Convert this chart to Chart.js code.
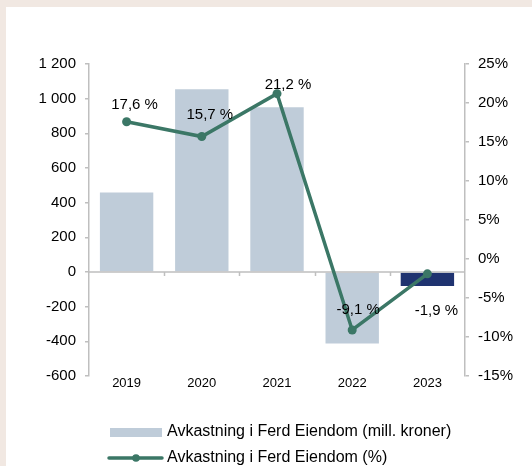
<!DOCTYPE html>
<html>
<head>
<meta charset="utf-8">
<script src="https://cdn.jsdelivr.net/npm/chart.js@4.4.1/dist/chart.umd.min.js"></script>
<style>
  html, body { margin: 0; padding: 0; background: #f1e8e2; }
  #panel { position: absolute; left: 6px; top: 7px; width: 526px; height: 459px; background: #fff; }
  canvas { display: block; }
</style>
</head>
<body>
<div id="panel"><canvas id="chart" width="526" height="459"></canvas></div>
<script>
// data
const years = ['2019', '2020', '2021', '2022', '2023'];
const returnMNOK = [458, 1055, 951, -412, -81];
const returnPct = [17.6, 15.7, 21.2, -9.1, -1.9];
const barLabel = 'Avkastning i Ferd Eiendom (mill. kroner)';
const lineLabel = 'Avkastning i Ferd Eiendom (%)';

const LIGHT = '#bfccd9';
const NAVY = '#1f3370';
const GREEN = '#3b7766';
const AXIS = '#bfbfbf';
const FONT = "'Liberation Sans', Arial, sans-serif";

// label nudges (dx, dy) relative to each point
const labelOffsets = [[8, -17], [8, -22], [11, -9], [6, -20], [9, 37]];

function fmtThousands(v) {
    let s = Math.abs(v).toString().replace(/\B(?=(\d{3})+(?!\d))/g, ' ');
    return (v < 0 ? '-' : '') + s;
}

// zero line for the bars + small boundary ticks
const zeroLinePlugin = {
    id: 'zeroLine',
    afterDatasetDraw(chart, args) {
        if (args.index !== 0) return;
        const ctx = chart.ctx, area = chart.chartArea;
        const y0 = chart.scales.y.getPixelForValue(0);
        ctx.save();
        ctx.strokeStyle = AXIS;
        ctx.lineWidth = 1.5;
        ctx.beginPath();
        ctx.moveTo(area.left, y0);
        ctx.lineTo(area.right, y0);
        const step = (area.right - area.left) / years.length;
        for (let i = 1; i < years.length; i++) {
            let x = Math.round(area.left + step * i) + 0.5;
            ctx.moveTo(x, y0);
            ctx.lineTo(x, y0 + 4);
        }
        ctx.stroke();
        ctx.restore();
    }
};

// percentage labels on the line
const pctLabelPlugin = {
    id: 'pctLabels',
    afterDatasetsDraw(chart) {
        const meta = chart.getDatasetMeta(1);
        const ctx = chart.ctx;
        ctx.save();
        ctx.font = '15px ' + FONT;
        ctx.fillStyle = '#000';
        ctx.textAlign = 'center';
        ctx.textBaseline = 'middle';
        meta.data.forEach((pt, i) => {
            let txt = returnPct[i].toFixed(1).replace('.', ',') + ' %';
            ctx.fillText(txt, pt.x + labelOffsets[i][0], pt.y + labelOffsets[i][1]);
        });
        ctx.restore();
    }
};

// legend drawn by hand (line + marker sample)
const legendPlugin = {
    id: 'customLegend',
    afterDraw(chart) {
        const ctx = chart.ctx, area = chart.chartArea;
        const x0 = area.left + 21;
        const y1 = area.bottom + 56;
        const y2 = area.bottom + 82;
        ctx.save();
        ctx.fillStyle = LIGHT;
        ctx.fillRect(x0, y1 - 4, 52, 9);
        ctx.strokeStyle = GREEN;
        ctx.lineWidth = 3.5;
        ctx.lineCap = 'round';
        ctx.beginPath();
        ctx.moveTo(x0 - 1, y2);
        ctx.lineTo(x0 + 52, y2);
        ctx.stroke();
        ctx.fillStyle = GREEN;
        ctx.beginPath();
        ctx.arc(x0 + 26, y2, 3.8, 0, Math.PI * 2);
        ctx.fill();
        ctx.fillStyle = '#000';
        ctx.font = '16px ' + FONT;
        ctx.textBaseline = 'middle';
        ctx.fillText(barLabel, x0 + 57, y1);
        ctx.fillText(lineLabel, x0 + 57, y2);
        ctx.restore();
    }
};

const ctx = document.getElementById('chart').getContext('2d');
new Chart(ctx, {
    data: {
        labels: years,
        datasets: [
            {
                type: 'bar', label: barLabel, data: returnMNOK, yAxisID: 'y',
                backgroundColor: returnMNOK.map((v, i) => i === returnMNOK.length - 1 ? NAVY : LIGHT),
                barPercentage: 0.71, categoryPercentage: 1, order: 1
            },
            {
                type: 'line', label: lineLabel, data: returnPct, yAxisID: 'y1',
                borderColor: GREEN, backgroundColor: GREEN, borderWidth: 3.5,
                pointRadius: 4.5, pointBackgroundColor: GREEN, pointBorderWidth: 0,
                tension: 0, order: 0
            }
        ]
    },
    options: {
        responsive: false, animation: false,
        layout: { padding: { left: 0, right: 0, top: 57, bottom: 70 } },
        plugins: { legend: { display: false }, tooltip: { enabled: false } },
        scales: {
            x: {
                grid: { display: false, drawTicks: false }, border: { display: false },
                ticks: { color: '#000', font: { family: FONT, size: 13 }, padding: 0 },
                afterFit: s => { s.height = 20; }
            },
            y: {
                position: 'left', min: -600, max: 1200,
                ticks: { stepSize: 200, color: '#000', padding: 9, font: { family: FONT, size: 15 }, callback: v => fmtThousands(v) },
                grid: { drawOnChartArea: false, tickLength: 4, color: AXIS, lineWidth: 1.5 },
                border: { color: AXIS, width: 1.5 },
                afterFit: s => { s.width = 83; }
            },
            y1: {
                position: 'right', min: -15, max: 25,
                ticks: { stepSize: 5, color: '#000', padding: 9, font: { family: FONT, size: 15 }, callback: v => v + '%' },
                grid: { drawOnChartArea: false, tickLength: 4, color: AXIS, lineWidth: 1.5 },
                border: { color: AXIS, width: 1.5 },
                afterFit: s => { s.width = 67; }
            }
        }
    },
    plugins: [zeroLinePlugin, pctLabelPlugin, legendPlugin]
});
</script>
</body>
</html>
